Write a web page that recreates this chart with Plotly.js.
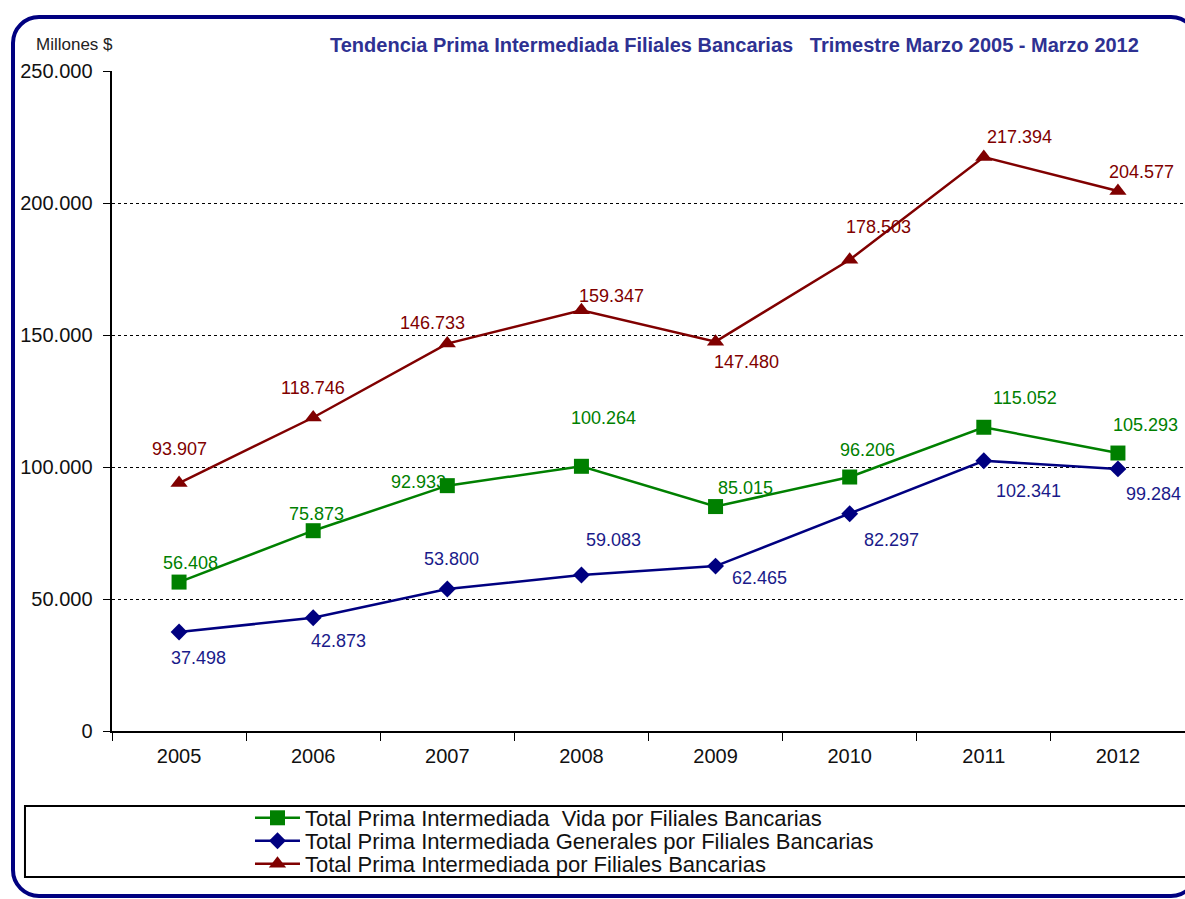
<!DOCTYPE html>
<html>
<head>
<meta charset="utf-8">
<script src="https://cdn.plot.ly/plotly-3.0.1.min.js"></script>
<style>
  html, body { margin: 0; padding: 0; background: #fff; overflow: hidden; }
  #chart { width: 1185px; height: 899px; }
  #frame {
    position: absolute; left: 11px; top: 15px; width: 1180px; height: 875px;
    border: 4px solid #000080; border-radius: 28px; pointer-events: none;
  }
</style>
</head>
<body>
<div id="chart"></div>
<div id="frame"></div>
<script>
// data
const years = ['2005', '2006', '2007', '2008', '2009', '2010', '2011', '2012'];
const vida = [56408, 75873, 92933, 100264, 85015, 96206, 115052, 105293];
const generales = [37498, 42873, 53800, 59083, 62465, 82297, 102341, 99284];
const total = [93907, 118746, 146733, 159347, 147480, 178503, 217394, 204577];

const seriesNames = [
    'Total Prima Intermediada  Vida por Filiales Bancarias',
    'Total Prima Intermediada Generales por Filiales Bancarias',
    'Total Prima Intermediada por Filiales Bancarias'
];

// label offsets (px) from each point, like the hand-placed Excel labels
const vidaShift = { dx: [11, 3, -29, 22, 30, 18, 41, 28], dy: [-19, -17, -4, -48, -19, -27, -29, -28] };
const generalesShift = { dx: [19, 25, 4, 32, 44, 42, 45, 36], dy: [26, 23, -30, -35, 12, 26, 30, 25] };
const totalShift = { dx: [0, 0, -15, 30, 31, 29, 36, 24], dy: [-34, -30, -21, -14, 20, -33, -20, -19] };

const FONT = '"Liberation Sans", Arial, sans-serif';
const GREEN = '#008000';
const BLUE = '#000080';
const RED = '#800000';

const fmt = v => v.toString().replace(/\B(?=(\d{3})+(?!\d))/g, '.');

const traces = [
    {
        x: years, y: vida, name: seriesNames[0], type: 'scatter', mode: 'lines+markers',
        legend: 'legend',
        line: { color: GREEN, width: 2.5 },
        marker: { symbol: 'square', size: 15, color: GREEN }
    },
    {
        x: years, y: generales, name: seriesNames[1], type: 'scatter', mode: 'lines+markers',
        legend: 'legend2',
        line: { color: BLUE, width: 2.5 },
        marker: { symbol: 'diamond', size: 13, color: BLUE }
    },
    {
        x: years, y: total, name: seriesNames[2], type: 'scatter', mode: 'lines+markers',
        legend: 'legend3',
        line: { color: RED, width: 2.5 },
        marker: { symbol: 'triangle-up', size: 15, color: RED }
    }
];

const labelAnnotations = (values, shift, color) => values.map((v, i) => ({
    xref: 'x', yref: 'y', x: i, y: v, text: fmt(v), showarrow: false,
    xanchor: 'center', yanchor: 'middle',
    xshift: shift.dx[i], yshift: -shift.dy[i],
    font: { family: FONT, size: 18, color: color }
}));

const annotations = [
    ...labelAnnotations(vida, vidaShift, GREEN),
    ...labelAnnotations(generales, generalesShift, '#1a1a8a'),
    ...labelAnnotations(total, totalShift, RED),
    {
        xref: 'paper', yref: 'paper', x: 0.5797, y: 1.0394, showarrow: false,
        xanchor: 'center', yanchor: 'middle',
        text: 'Tendencia Prima Intermediada Filiales Bancarias   Trimestre Marzo 2005 - Marzo 2012',
        font: { family: FONT, size: 20, color: '#2E3192', weight: 'bold' }
    },
    {
        xref: 'paper', yref: 'paper', x: -0.0345, y: 1.0394, showarrow: false,
        xanchor: 'center', yanchor: 'middle',
        text: 'Millones $',
        font: { family: FONT, size: 17, color: '#222' }
    }
];

// one legend per series so the rows sit as tight as in the original
const legendBase = y => ({
    x: 0.1286, y: y, xanchor: 'left', yanchor: 'middle',
    bgcolor: 'rgba(0,0,0,0)', borderwidth: 0, itemwidth: 45,
    font: { family: FONT, size: 22, color: '#111' }
});

const layout = {
    width: 1185, height: 899,
    margin: { l: 112, r: 0, t: 71, b: 168 },
    paper_bgcolor: '#fff', plot_bgcolor: '#fff',
    separators: ',.',
    font: { family: FONT, color: '#111' },
    showlegend: true,
    legend: legendBase(-0.1318),
    legend2: legendBase(-0.1667),
    legend3: legendBase(-0.2015),
    xaxis: {
        type: 'category', range: [-0.5, 7.5],
        showline: true, linecolor: '#000', linewidth: 2,
        ticks: 'outside', tickson: 'boundaries', ticklen: 8, tickcolor: '#000',
        ticklabelstandoff: 6,
        showgrid: false, tickfont: { family: FONT, size: 20, color: '#111' }
    },
    yaxis: {
        range: [0, 250000], tickvals: [0, 50000, 100000, 150000, 200000, 250000],
        tickformat: ',d',
        showline: true, linecolor: '#000', linewidth: 2.5,
        ticks: 'outside', ticklen: 7, tickcolor: '#000',
        ticklabelstandoff: 6,
        showgrid: true, gridcolor: '#000', griddash: 'dot', gridwidth: 1,
        zeroline: false,
        tickfont: { family: FONT, size: 20, color: '#111' }
    },
    shapes: [
        {
            type: 'rect', xref: 'paper', yref: 'paper',
            x0: -0.0811, x1: 1.02, y0: -0.1136, y1: -0.2212,
            line: { color: '#000', width: 2 }
        }
    ],
    annotations: annotations
};

Plotly.newPlot('chart', traces, layout, { displayModeBar: false, staticPlot: true });
</script>
</body>
</html>
